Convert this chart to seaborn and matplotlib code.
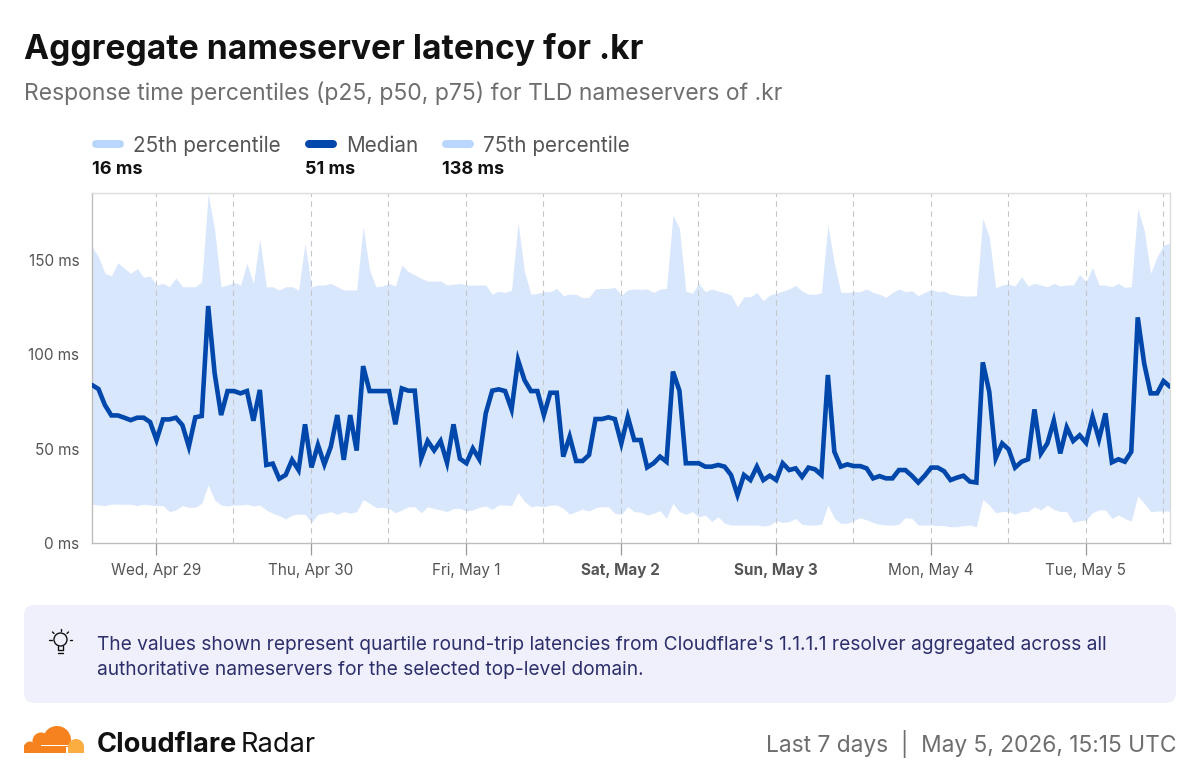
"""Aggregate nameserver latency for .kr, Cloudflare Radar card."""

import matplotlib
matplotlib.use("Agg")
import matplotlib.dates as mdates
import matplotlib.pyplot as plt
import pandas as pd
import seaborn as sns
from matplotlib.patches import Circle, FancyBboxPatch, Rectangle

START_TIME = "2026-04-28 14:05"

P25 = [
    20.6, 20.1, 19.8, 20.6, 20.5, 20.5, 20.5, 19.8, 20.5, 20.1,
    19.8, 19.8, 16.6, 17.5, 19.8, 18.9, 18.9, 21, 30.7, 22.8,
    20.1, 19.6, 20.1, 20.1, 20.5, 19.6, 20.1, 17.5, 15.7, 14.5,
    12.7, 14.8, 15.3, 15.2, 10.9, 15.2, 15.7, 16.6, 15.2, 16.6,
    15.7, 16.6, 23, 21, 18.7, 18.9, 18.3, 16, 17.5, 19.2,
    19.2, 16, 19.2, 18.3, 17.5, 16.6, 18.3, 18.3, 16.9, 17.5,
    18.9, 19.6, 17.8, 20.1, 20.1, 19.8, 26.6, 21.9, 19.2, 19.6,
    19.2, 20.1, 20.1, 18.3, 15.2, 16.6, 18, 16.9, 18.7, 19.2,
    19.2, 15.7, 15.2, 19.2, 16.6, 16.3, 14.8, 15.7, 17.1, 13,
    21, 16.6, 15.2, 16.6, 13.9, 14.8, 11.3, 13.9, 10.4, 9.5,
    9.5, 9.5, 9.5, 9.5, 9, 9.5, 11.8, 10.9, 11.3, 13,
    9.9, 9.5, 9.5, 9.9, 20.1, 13, 10.4, 10.4, 11.8, 13.4,
    12.2, 10.8, 9.9, 9.5, 9.5, 9.9, 13.4, 13, 9.5, 9.5,
    9.5, 9.2, 9.2, 8.6, 8.6, 9.2, 9.5, 8.6, 23, 20.1,
    16, 16.6, 16.6, 15.2, 16.6, 16.6, 19.2, 17.5, 20.1, 17.8,
    16.6, 16.6, 10.9, 11.8, 12.2, 16, 17.5, 17.5, 13, 14.8,
    13, 11.6, 24.9, 21, 16.6, 16.9, 16.9, 16.9,
]
P50 = [
    83.6, 81.5, 73, 67.5, 67.5, 66.3, 65, 66.3, 66.3, 64,
    54.5, 65.4, 65.4, 66.3, 62.4, 51, 66.5, 67.2, 125.4, 89.8,
    67.7, 80.4, 80.4, 79.2, 80.4, 64.7, 81, 41.3, 42, 34,
    36, 44, 38.6, 62.8, 40, 51.9, 41.6, 51, 67.7, 44,
    67.7, 48.9, 93.6, 80.4, 80.4, 80.4, 80.4, 62.8, 81.8, 80.6,
    80.6, 44.8, 54, 49, 54, 42.5, 62.8, 44.6, 42.2, 50,
    44.3, 68.6, 80.6, 81.3, 80.4, 70.7, 96.8, 86.2, 80.4, 80.4,
    67.7, 79.5, 79.5, 45.7, 56.3, 43.4, 43.4, 46.6, 65.6, 65.6,
    66.5, 65.6, 52.7, 66.8, 54.5, 54.5, 40, 42.2, 45.7, 43,
    90.7, 80.6, 42.2, 42.2, 42.2, 40.4, 40.4, 41.3, 40.4, 36,
    25.4, 36, 33.3, 40.4, 33.3, 35.6, 33.3, 42.2, 38.6, 39.5,
    35, 39.9, 39, 36, 88.9, 48.3, 40.4, 41.6, 40.7, 40.7,
    39.5, 34.2, 35.4, 34.2, 34.2, 38.6, 38.6, 35.6, 32, 35.6,
    39.9, 39.9, 38, 33.3, 34.6, 35.6, 32.5, 32, 95.6, 80,
    44.8, 52.7, 49.6, 39.9, 43, 44.3, 70.7, 47.4, 52.7, 64.7,
    47.4, 61.2, 54, 57, 53, 66.8, 54.9, 68.6, 42.7, 44.3,
    43, 48.3, 119.4, 95, 79.2, 79.2, 85.7, 82.7,
]
P75 = [
    156.8, 151.5, 142.7, 141.4, 148.3, 145.3, 142.7, 145.3, 140.6, 141.3,
    136.5, 137.4, 135.6, 140.4, 135.6, 135.6, 135.6, 138.3, 184.7, 165.6,
    135.6, 136.5, 137.9, 136.5, 148, 137.4, 161, 135.6, 135.6, 133.9,
    135.6, 135.6, 133.9, 158.6, 135.6, 136.5, 136.5, 137.4, 135.6, 133.9,
    133.9, 133.9, 167.4, 144.4, 135.6, 136, 137.4, 136, 147, 143.6,
    142, 140, 138.6, 138.6, 138.6, 136.5, 136.9, 137.4, 136.5, 136.5,
    136.5, 136.5, 131.6, 133.3, 132.6, 133.9, 169.5, 143.6, 131.6, 132.1,
    133, 133, 134.7, 130.9, 131.6, 131.6, 129.8, 130, 134.4, 134.7,
    134.7, 135.3, 131.2, 133.9, 134.4, 134.2, 134.4, 132.6, 134.4, 134.7,
    173.5, 166.5, 133.3, 132.1, 137.4, 133, 134.4, 133.3, 132.5, 131.2,
    125, 130.3, 130.3, 132.5, 128.2, 131.2, 132.1, 133.3, 134.4, 136.3,
    133.3, 131.7, 131.6, 132.5, 168.3, 148, 132.6, 132.6, 133, 133,
    134.4, 132.6, 131.6, 130, 132.6, 134.4, 133, 133.5, 130.9, 132.6,
    134.2, 133, 133.3, 131.6, 131.2, 130.7, 130.7, 130.9, 171.8, 162,
    135.1, 136.5, 137, 136, 141, 136, 137.4, 136.5, 135.6, 137.4,
    136, 136.5, 136.5, 142, 138.3, 145.8, 136.5, 136.5, 135.6, 137.4,
    135.3, 135.6, 177, 165.6, 142.7, 151.5, 157.7, 158.5,
]

DAY_TICKS = ["2026-04-29", "2026-04-30", "2026-05-01", "2026-05-02",
             "2026-05-03", "2026-05-04", "2026-05-05"]
DAY_LABELS = ["Wed, Apr 29", "Thu, Apr 30", "Fri, May 1", "Sat, May 2",
              "Sun, May 3", "Mon, May 4", "Tue, May 5"]
BOLD_DAYS = ["Sat, May 2", "Sun, May 3"]
Y_TICKS = [0, 50, 100, 150]
Y_LABELS = ["0 ms", "50 ms", "100 ms", "150 ms"]

LEGEND_NAMES = ["25th percentile", "Median", "75th percentile"]
LEGEND_VALUES = ["16 ms", "51 ms", "138 ms"]

BAND_COLOR = "#d9e7fd"
SWATCH_COLOR = "#b9d7fc"
MEDIAN_COLOR = "#0047ab"
GRAY_TEXT = "#6e6e6e"
PX = 72 / 100  # points per pixel at dpi 100

sns.set_theme(style="white")
plt.rcParams["font.family"] = ["Inter", "DejaVu Sans"]

fig = plt.figure(figsize=(12, 7.8), dpi=100, facecolor="white")
ax = fig.add_axes([92 / 1200, 1 - 543 / 780, 1078 / 1200, 350 / 780])

times = pd.date_range(START_TIME, periods=len(P50), freq="h")
frame = pd.DataFrame({"time": times, "p25": P25, "p50": P50, "p75": P75})

ax.fill_between(frame["time"], frame["p25"], frame["p75"],
                color=BAND_COLOR, linewidth=0, zorder=1)
noon_lines = pd.date_range("2026-04-29", periods=14, freq="12h")
for stamp in noon_lines:
    ax.axvline(stamp, color="#c4c6ca", lw=1.1 * PX, ls=(0, (5, 4)), zorder=2)
sns.lineplot(data=frame, x="time", y="p50", ax=ax, color=MEDIAN_COLOR,
             linewidth=4.6 * PX, solid_joinstyle="miter", errorbar=None, zorder=3)

ax.set_xlim(times[0], times[-1])
ax.set_ylim(0, 185.2)
ax.set_xlabel("")
ax.set_ylabel("")
ax.set_yticks(Y_TICKS)
ax.set_yticklabels(Y_LABELS, fontsize=11, color="#555555")
ax.set_xticks(mdates.date2num(pd.to_datetime(DAY_TICKS)))
ax.set_xticklabels(DAY_LABELS, fontsize=11, color="#555555")
for label in ax.get_xticklabels():
    if label.get_text() in BOLD_DAYS:
        label.set_fontweight("bold")
ax.tick_params(axis="x", length=8.5, width=0.9, color="#9a9a9a", pad=6, bottom=True)
ax.tick_params(axis="y", length=0, pad=9, left=False)
for side, spine in ax.spines.items():
    spine.set_color("#dcdcdc" if side in ("top", "right") else "#bdbdbd")
    spine.set_linewidth(1.0)

# everything around the plot is placed in pixel coordinates of the card
card = fig.add_axes([0, 0, 1, 1], zorder=5)
card.set_xlim(0, 1200)
card.set_ylim(780, 0)
card.axis("off")
card.patch.set_alpha(0)

card.text(24, 49, "Aggregate nameserver latency for .kr", fontsize=24.2,
          fontweight="bold", color="#111111", va="center")
card.text(24, 93, "Response time percentiles (p25, p50, p75) for TLD nameservers of .kr",
          fontsize=16.5, color=GRAY_TEXT, va="center")

for x0, name, value, color in zip([92, 305, 442], LEGEND_NAMES, LEGEND_VALUES,
                                  [SWATCH_COLOR, MEDIAN_COLOR, SWATCH_COLOR]):
    card.plot([x0 + 4, x0 + 28], [144, 144], color=color, lw=8 * PX,
              solid_capstyle="round")
    card.text(x0 + 41, 146, name, fontsize=14.9, color="#555555", va="center")
    card.text(x0, 169, value, fontsize=13, fontweight="bold", color="#111111",
              va="center")

card.add_patch(FancyBboxPatch((24, 605), 1152, 98, boxstyle="round,pad=0,rounding_size=10",
                              facecolor="#f0f0fc", edgecolor="none", linewidth=0))
card.text(97, 645, "The values shown represent quartile round-trip latencies from "
          "Cloudflare's 1.1.1.1 resolver aggregated across all",
          fontsize=13.8, color="#2d2f6b", va="center")
card.text(97, 670, "authoritative nameservers for the selected top-level domain.",
          fontsize=13.8, color="#2d2f6b", va="center")

# bulb icon
card.add_patch(Circle((60.5, 639.5), 6.5, fill=False, edgecolor="#111111", lw=1.0))
card.plot([58, 58, 63, 63], [645.5, 650, 650, 645.5], color="#111111", lw=1.0)
card.plot([58, 63], [652.5, 652.5], color="#111111", lw=1.0)
for x1, y1, x2, y2 in [(60.5, 629, 60.5, 631), (52.5, 632, 54, 633.5), (68.5, 632, 67, 633.5),
                       (49, 640, 51.5, 640), (72, 640, 69.5, 640)]:
    card.plot([x1, x2], [y1, y2], color="#111111", lw=1.0)

# cloud logo
orange = "#f6821f"
light = "#fbad41"
for cx, cy, r in [(57, 740, 14), (41, 741, 8.5), (30, 747.5, 6)]:
    card.add_patch(Circle((cx, cy), r, facecolor=orange, edgecolor="none"))
card.add_patch(Rectangle((24, 745), 46, 8, facecolor=orange, edgecolor="none"))
card.add_patch(Circle((76, 747), 8, facecolor=light, edgecolor="none"))
card.add_patch(Rectangle((68, 746), 16, 7, facecolor=light, edgecolor="none"))
card.add_patch(Rectangle((41, 745.2), 27, 1.2, facecolor="white", edgecolor="none"))
card.add_patch(Rectangle((66, 747), 2.2, 6, facecolor="white", edgecolor="none"))
card.add_patch(Rectangle((20, 753), 70, 7, facecolor="white", edgecolor="none"))

card.text(97, 745.5, "Cloudflare", fontsize=19.6, fontweight="bold",
          color="#111111", va="center")
card.text(241, 745.5, "Radar", fontsize=19.6, color="#111111", va="center")
card.text(1176, 743.5, "Last 7 days  |  May 5, 2026, 15:15 UTC", fontsize=16.4,
          color=GRAY_TEXT, va="center", ha="right")

fig.savefig("out.png", dpi=100)
plt.close(fig)
